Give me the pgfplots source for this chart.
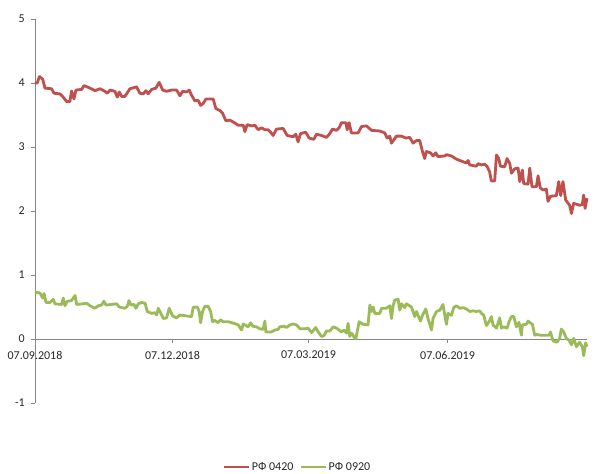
\documentclass[border=0pt]{standalone}
\usepackage{fontspec}
\setmainfont{Carlito}
\usepackage{pgfplots}
\pgfplotsset{compat=1.18}
\definecolor{rd}{RGB}{192,80,77}
\definecolor{gr}{RGB}{155,187,89}
\definecolor{axc}{RGB}{134,134,134}
\begin{document}
\fontsize{12}{14}\selectfont
\begin{tikzpicture}
\path[use as bounding box] (0,0) rectangle (595pt,474pt);
\begin{axis}[
  at={(35pt,71pt)}, anchor=south west,
  scale only axis, width=552pt, height=384pt,
  xmin=0, xmax=365.3, ymin=-1, ymax=5,
  axis x line=middle, axis y line=left,
  hide obscured x ticks=false, hide obscured y ticks=false,
  axis line style={draw=axc, line width=0.8pt, -},
  every inner x axis line/.append style={-},
  every outer y axis line/.append style={-},
  xtick={0,91,181,273},
  xticklabels={07.09.2018,07.12.2018,07.03.2019,07.06.2019},
  ytick={-1,0,1,2,3,4,5},
  tick align=outside, major tick length=4pt,
  tick style={draw=axc, line width=0.8pt},
  xticklabel style={yshift=-4pt},
  yticklabel style={xshift=-2pt},
  /pgf/number format/assume math mode=true,
  every tick label/.append style={font=\fontsize{12}{14}\selectfont, text=black!85},
  legend columns=2,
  legend style={draw=none, fill=none, at={(axis description cs:0.4755,-0.1667)}, anchor=center,
    font=\fontsize{12}{14}\selectfont, text=black!85,
    /tikz/every even column/.append style={column sep=4pt}},
  legend image code/.code={\draw[#1, line width=2.2pt] (0pt,0pt) -- (25pt,0pt);},
  clip=false,
]
\addplot[rd, line width=2.8pt, line join=round] coordinates {
(0,4.00)(1.5,4.00)(2.9,4.10)(5.1,4.06)(6.6,3.92)(11.0,3.91)(12.6,3.84)(16.5,3.83)(18.3,3.79)(20.9,3.71)(23.1,3.71)(24.2,3.875)(25.8,3.75)(27.1,3.89)(30.9,3.90)(32.4,3.96)(36.4,3.92)(39.7,3.88)(43.0,3.91)(46.3,3.87)(47.8,3.84)(49.6,3.89)(52.9,3.87)(54.4,3.78)(55.8,3.86)(57.3,3.79)(59.5,3.79)(62.8,3.91)(67.2,3.94)(69.4,3.84)(71.6,3.83)(73.4,3.88)(74.9,3.83)(77.2,3.90)(80.0,3.92)(82.2,4.01)(84.5,3.89)(87.1,3.87)(90.4,3.89)(93.7,3.89)(95.9,3.80)(97.7,3.87)(100.3,3.86)(102.1,3.89)(103.6,3.81)(105.8,3.72)(108.0,3.73)(109.6,3.65)(111.3,3.68)(113.1,3.75)(117.9,3.75)(119.7,3.60)(122.4,3.57)(124.1,3.53)(126.3,3.41)(129.0,3.42)(131.2,3.39)(134.5,3.34)(137.8,3.34)(138.9,3.24)(140.4,3.35)(143.3,3.33)(145.5,3.34)(147.7,3.27)(149.9,3.30)(152.1,3.27)(154.3,3.27)(155.9,3.23)(157.6,3.18)(159.8,3.28)(164.2,3.29)(166.9,3.18)(170.8,3.16)(172.6,3.20)(174.1,3.08)(175.7,3.21)(179.2,3.23)(181.4,3.14)(184.5,3.12)(186.3,3.20)(189.6,3.18)(192.9,3.15)(195.1,3.21)(196.9,3.28)(199.5,3.26)(201.3,3.30)(202.8,3.38)(205.7,3.38)(206.6,3.27)(207.9,3.38)(209.4,3.22)(213.8,3.22)(216.1,3.32)(219.4,3.33)(222.7,3.26)(228.2,3.25)(231.5,3.22)(233.0,3.14)(234.8,3.17)(235.9,3.06)(237.4,3.11)(239.2,3.17)(242.5,3.17)(245.4,3.14)(248.0,3.15)(250.2,3.06)(252.4,3.10)(254.6,3.10)(256.4,2.93)(257.9,2.82)(259.0,2.93)(261.7,2.91)(263.4,2.86)(265.2,2.91)(266.7,2.85)(271.2,2.86)(272.3,2.88)(275.6,2.86)(278.9,2.81)(283.3,2.77)(285.5,2.75)(286.6,2.79)(287.7,2.72)(292.1,2.70)(293.2,2.74)(295.4,2.72)(297.6,2.73)(299.1,2.70)(300.9,2.61)(302.0,2.47)(304.2,2.47)(305.4,2.875)(306.9,2.82)(308.0,2.70)(310.8,2.69)(312.4,2.82)(314.2,2.74)(315.3,2.59)(317.5,2.66)(319.7,2.67)(320.8,2.46)(322.5,2.64)(323.4,2.43)(326.3,2.42)(327.4,2.67)(328.9,2.38)(331.8,2.38)(332.9,2.55)(334.4,2.36)(336.2,2.33)(338.4,2.34)(339.5,2.15)(341.1,2.23)(345.0,2.24)(346.6,2.46)(347.9,2.24)(349.4,2.46)(351.2,2.17)(353.8,2.09)(355.0,1.96)(356.5,2.12)(360.4,2.09)(362.2,2.10)(363.1,2.25)(364.0,2.04)(365.3,2.20)
};
\addlegendentry{РФ 0420}
\addplot[gr, line width=2.8pt, line join=round] coordinates {
(0,0.73)(3.3,0.72)(5.1,0.64)(6.0,0.71)(7.3,0.57)(9.9,0.57)(12.1,0.62)(13.2,0.55)(17.6,0.54)(18.7,0.64)(19.8,0.52)(21.4,0.59)(24.2,0.60)(26.5,0.68)(27.6,0.54)(32.0,0.55)(34.2,0.56)(36.4,0.52)(39.7,0.48)(41.9,0.52)(44.1,0.53)(45.6,0.59)(47.0,0.53)(50.7,0.54)(54.0,0.55)(55.8,0.50)(59.5,0.48)(61.1,0.51)(62.2,0.60)(63.5,0.53)(65.5,0.54)(66.8,0.48)(68.3,0.55)(70.6,0.57)(72.8,0.56)(74.3,0.43)(77.2,0.40)(79.4,0.41)(80.5,0.375)(81.6,0.48)(83.1,0.41)(84.9,0.32)(87.1,0.33)(88.8,0.48)(91.1,0.36)(93.7,0.33)(95.9,0.375)(100.3,0.36)(103.6,0.35)(104.7,0.495)(107.3,0.50)(108.7,0.43)(109.6,0.255)(110.9,0.43)(112.4,0.51)(114.6,0.51)(116.2,0.43)(117.5,0.27)(119.0,0.29)(121.2,0.255)(122.8,0.30)(124.5,0.27)(127.8,0.27)(131.6,0.245)(134.5,0.22)(136.7,0.14)(137.8,0.235)(141.1,0.19)(142.7,0.255)(144.0,0.20)(146.6,0.19)(148.8,0.16)(151.0,0.15)(152.1,0.28)(152.8,0.11)(156.5,0.11)(158.7,0.14)(160.9,0.15)(162.0,0.19)(164.7,0.20)(166.4,0.18)(168.7,0.22)(170.8,0.235)(173.1,0.22)(175.3,0.16)(178.6,0.16)(180.8,0.17)(183.0,0.10)(185.8,0.18)(187.4,0.11)(189.6,0.04)(191.1,0.05)(192.9,0.125)(195.1,0.125)(197.3,0.19)(199.5,0.17)(201.3,0.14)(202.8,0.11)(204.4,0.14)(206.2,0.09)(207.2,0.245)(208.3,0.04)(209.4,0.09)(210.5,0.06)(211.6,0.01)(212.3,0.0)(213.2,0.11)(214.5,0.27)(217.1,0.23)(220.4,0.22)(221.6,0.53)(222.7,0.43)(223.8,0.50)(224.9,0.40)(228.2,0.40)(229.3,0.48)(232.6,0.48)(234.8,0.52)(235.9,0.32)(237.0,0.52)(238.1,0.61)(240.3,0.62)(241.4,0.45)(242.5,0.55)(244.7,0.49)(245.8,0.55)(249.1,0.50)(251.3,0.35)(252.4,0.43)(255.1,0.28)(256.4,0.37)(258.6,0.47)(260.1,0.32)(262.4,0.14)(263.4,0.32)(265.7,0.43)(267.9,0.45)(270.0,0.54)(271.2,0.37)(272.3,0.23)(273.3,0.40)(275.6,0.37)(277.1,0.49)(278.9,0.52)(281.1,0.48)(283.3,0.49)(285.5,0.47)(287.7,0.43)(289.9,0.44)(292.1,0.43)(294.3,0.44)(295.4,0.40)(297.0,0.37)(298.7,0.21)(300.5,0.27)(302.0,0.35)(303.1,0.22)(305.4,0.17)(307.5,0.33)(308.7,0.17)(310.2,0.19)(312.4,0.17)(313.7,0.27)(315.3,0.35)(316.8,0.35)(318.6,0.19)(320.3,0.26)(321.9,0.06)(322.5,0.22)(325.2,0.23)(326.3,0.28)(327.8,0.25)(329.2,0.23)(330.7,0.06)(332.2,0.07)(334.4,0.06)(337.3,0.06)(340.1,0.06)(341.1,0.11)(342.8,-0.03)(345.5,-0.05)(347.2,0.01)(348.3,0.155)(349.9,0.11)(351.6,0.01)(353.4,-0.02)(355.0,-0.09)(356.5,0.01)(358.3,-0.12)(360.4,-0.05)(362.2,-0.12)(363.1,-0.26)(364.4,-0.06)(365.3,-0.12)
};
\addlegendentry{РФ 0920}
\end{axis}
\end{tikzpicture}
\end{document}
